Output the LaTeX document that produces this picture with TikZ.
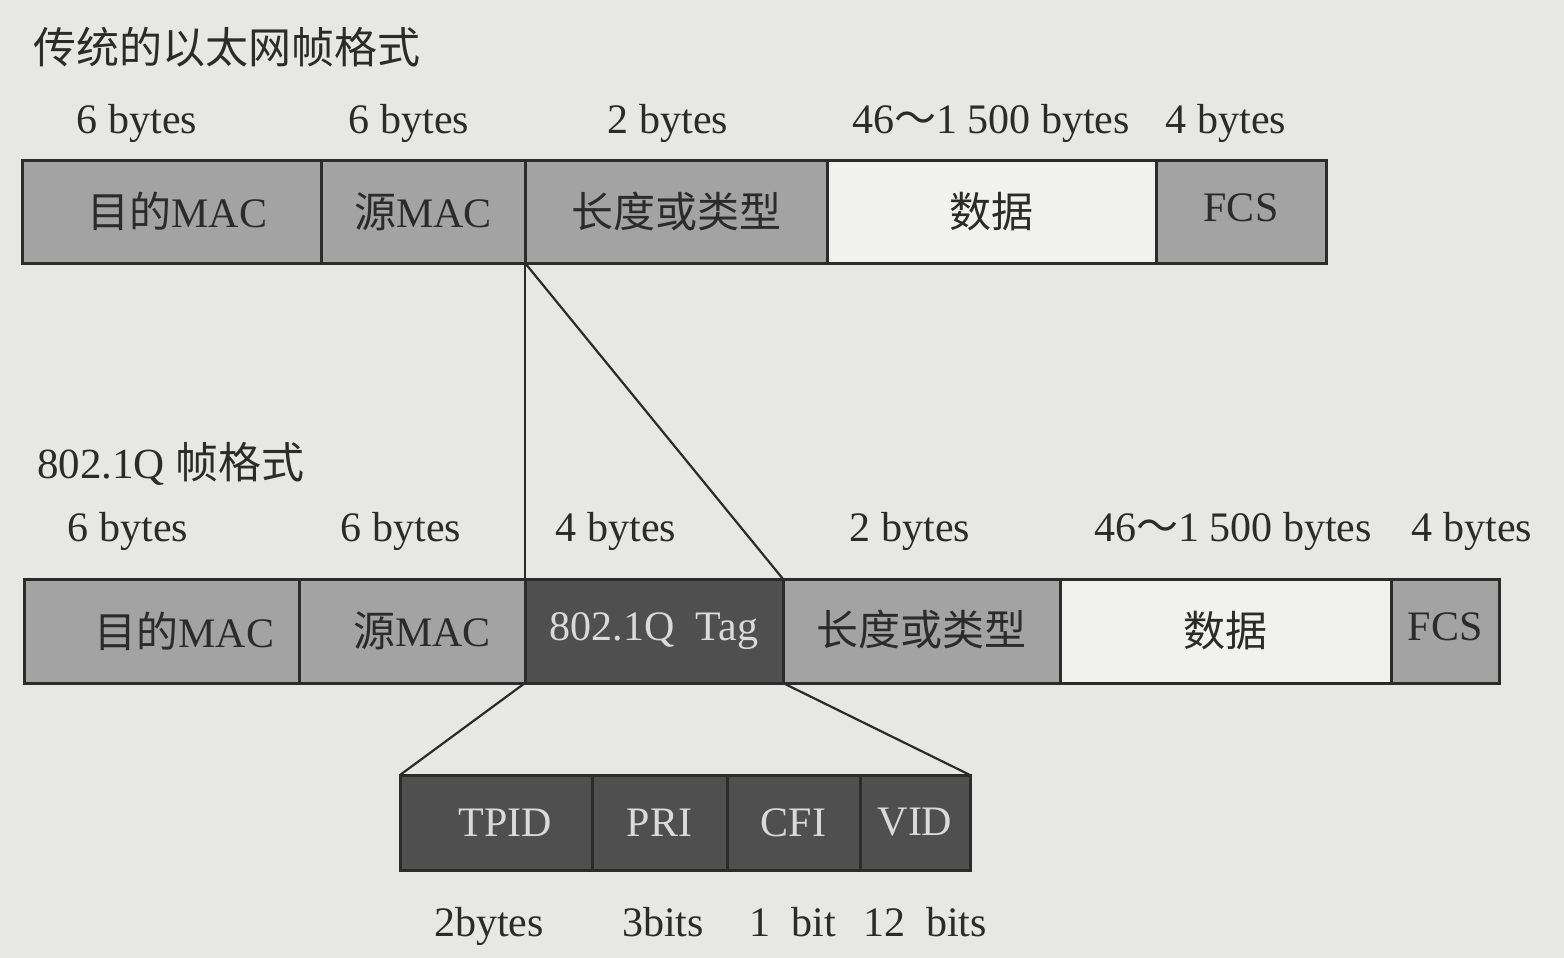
\documentclass[tikz,border=0pt]{standalone}
\usepackage{fontspec}
\setmainfont{Liberation Serif}
\newfontfamily\cjk{Noto Sans CJK SC}
\definecolor{bgc}{HTML}{E7E7E5}
\definecolor{midgray}{HTML}{A3A3A3}
\definecolor{lightbox}{HTML}{F1F1EF}
\definecolor{darkbox}{HTML}{4F4F4F}
\definecolor{ink}{HTML}{2B2B2B}
\definecolor{paleink}{HTML}{DADADA}
\begin{document}
\begin{tikzpicture}[x=1pt,y=-1pt,
  field/.style={draw=ink, line width=3pt, fill=midgray, inner sep=0pt, outer sep=0pt,
    text=ink, font=\fontsize{42}{48}\selectfont},
  toprow/.style={field, minimum height=103pt},
  botrow/.style={field, minimum height=104pt},
  tagrow/.style={field, fill=darkbox, text=paleink, minimum height=95pt},
  datafield/.style={fill=lightbox},
  darkfield/.style={fill=darkbox, text=paleink},
  sizelabel/.style={inner sep=0pt, anchor=base, text=ink, font=\fontsize{42}{48}\selectfont},
  titlelabel/.style={inner sep=0pt, anchor=west, text=ink, font=\fontsize{43}{48}\selectfont},
  link/.style={draw=ink, line width=2.2pt}
]
\fill[bgc] (0,0) rectangle (1564,958);
\useasboundingbox (0,0) rectangle (1564,958);

% titles
\node[titlelabel] (t1) at (33,47) {\cjk 传统的以太网帧格式};
\node[titlelabel] (t2) at (37,464) {802.1Q {\cjk 帧格式}};

% top row sizes
\node[sizelabel] (ls1) at (137,133) {6 bytes};
\node[sizelabel] (ls2) at (409,133) {6 bytes};
\node[sizelabel] (ls3) at (668,133) {2 bytes};
\node[sizelabel] (ls4) at (991,133) {46{\cjk ～}1 500 bytes};
\node[sizelabel] (ls5) at (1226,133) {4 bytes};

% top row fields
\node[toprow, minimum width=299pt] (tA) at (171.5,211.5) {\hspace*{12pt}{\cjk 目的}MAC};
\node[toprow, minimum width=204pt] (tB) at (423,211.5) {{\cjk 源}MAC};
\node[toprow, minimum width=302pt] (tC) at (676,211.5) {\cjk 长度或类型};
\node[toprow, datafield, minimum width=329pt] (tD) at (991.5,211.5) {\cjk 数据};
\node[toprow, minimum width=170pt] (tE) at (1241,211.5) {\raisebox{8pt}{FCS}};

% bottom row sizes
\node[sizelabel] (lb1) at (128,541) {6 bytes};
\node[sizelabel] (lb2) at (401,541) {6 bytes};
\node[sizelabel] (lb3) at (616,541) {4 bytes};
\node[sizelabel] (lb4) at (910,541) {2 bytes};
\node[sizelabel] (lb5) at (1233,541) {46{\cjk ～}1 500 bytes};
\node[sizelabel] (lb6) at (1472,541) {4 bytes};

% bottom row fields
\node[botrow, minimum width=275pt] (bA) at (161.5,631) {\hspace*{46pt}{\cjk 目的}MAC};
\node[botrow, minimum width=226pt] (bB) at (412,631) {\hspace*{20pt}{\cjk 源}MAC};
\node[botrow, darkfield, minimum width=258pt] (bC) at (654,631) {802.1Q\ \ Tag};
\node[botrow, minimum width=277pt] (bD) at (921.5,631) {\raisebox{6pt}{\cjk 长度或类型}};
\node[botrow, datafield, minimum width=331pt] (bE) at (1225.5,631) {\cjk 数据};
\node[botrow, minimum width=108pt] (bF) at (1445,631) {\raisebox{8pt}{FCS}};

% tag fields
\node[tagrow, minimum width=192pt] (gA) at (496,822.5) {\hspace*{18pt}TPID};
\node[tagrow, minimum width=135pt] (gB) at (659.5,822.5) {PRI};
\node[tagrow, minimum width=133pt] (gC) at (793.5,822.5) {CFI};
\node[tagrow, minimum width=110pt] (gD) at (915,822.5) {VID};

% tag sizes
\node[sizelabel] (lg1) at (489,936) {2bytes};
\node[sizelabel] (lg2) at (663,936) {3bits};
\node[sizelabel] (lg3) at (793,936) {1\ \ bit};
\node[sizelabel] (lg4) at (925,936) {12\ \ bits};

% connectors
\draw[link] (tC.south west) -- (bC.north west);
\draw[link] (tC.south west) -- (bC.north east);
\draw[link] (bC.south west) -- (gA.north west);
\draw[link] (bC.south east) -- (gD.north east);
\end{tikzpicture}
\end{document}
